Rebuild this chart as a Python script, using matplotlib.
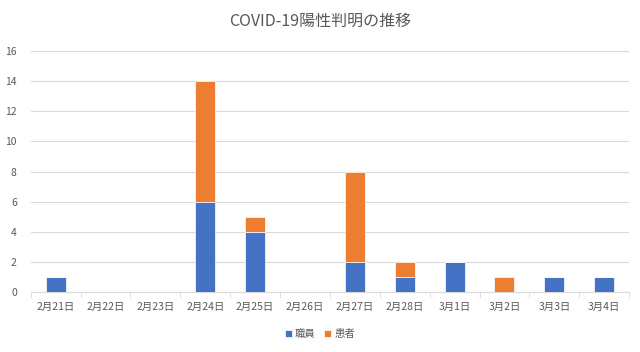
import matplotlib
matplotlib.use("Agg")
import matplotlib.pyplot as plt
import numpy as np

plt.rcParams['font.family'] = ['Noto Sans CJK JP', 'DejaVu Sans']

categories = ["2月21日", "2月22日", "2月23日", "2月24日", "2月25日", "2月26日",
              "2月27日", "2月28日", "3月1日", "3月2日", "3月3日", "3月4日"]
staff = [1, 0, 0, 6, 4, 0, 2, 1, 2, 0, 1, 1]
patients = [0, 0, 0, 8, 1, 0, 6, 1, 0, 1, 0, 0]
series_names = ["職員", "患者"]
yticks = [0, 2, 4, 6, 8, 10, 12, 14, 16]

blue = "#4472C4"
orange = "#ED7D31"
grey = "#595959"

fig = plt.figure(figsize=(6.4, 3.52), dpi=100)
ax = fig.add_axes([0.048, 0.170, 0.935, 0.685])

x = np.arange(len(categories))
ax.bar(x, staff, width=0.4, color=blue, edgecolor="white", linewidth=0.5, label=series_names[0], zorder=3)
ax.bar(x, patients, width=0.4, bottom=staff, color=orange, edgecolor="white", linewidth=0.5, label=series_names[1], zorder=3)

ax.set_xlim(-0.5, len(categories) - 0.5)
ax.set_ylim(0, 16)
ax.set_yticks(yticks)
ax.set_yticklabels([str(v) for v in yticks])
ax.yaxis.grid(True, color="#D9D9D9", linewidth=0.8, zorder=0)
ax.set_axisbelow(True)

ax.set_xticks(x)
ax.set_xticklabels(categories)
ax.set_xticks(np.arange(-0.5, len(categories), 1), minor=True)
ax.tick_params(axis='x', which='major', length=0, pad=7, labelsize=7.5, labelcolor=grey)
ax.tick_params(axis='x', which='minor', length=4, color="#D9D9D9")
ax.tick_params(axis='y', length=0, pad=10, labelsize=7.5, labelcolor=grey)

for s in ["top", "right", "left"]:
    ax.spines[s].set_visible(False)
ax.spines["bottom"].set_color("#D9D9D9")

fig.text(0.5, 0.94, "COVID-19陽性判明の推移", ha="center", va="center", fontsize=11.5, color=grey)

handles, labels = ax.get_legend_handles_labels()
fig.legend(handles, labels, loc="center", bbox_to_anchor=(0.5, 0.05), ncol=2, frameon=False,
           fontsize=7.5, labelcolor=grey, handlelength=0.7, handleheight=0.7, handletextpad=0.3,
           columnspacing=0.8)

fig.savefig("out.png", dpi=100)
